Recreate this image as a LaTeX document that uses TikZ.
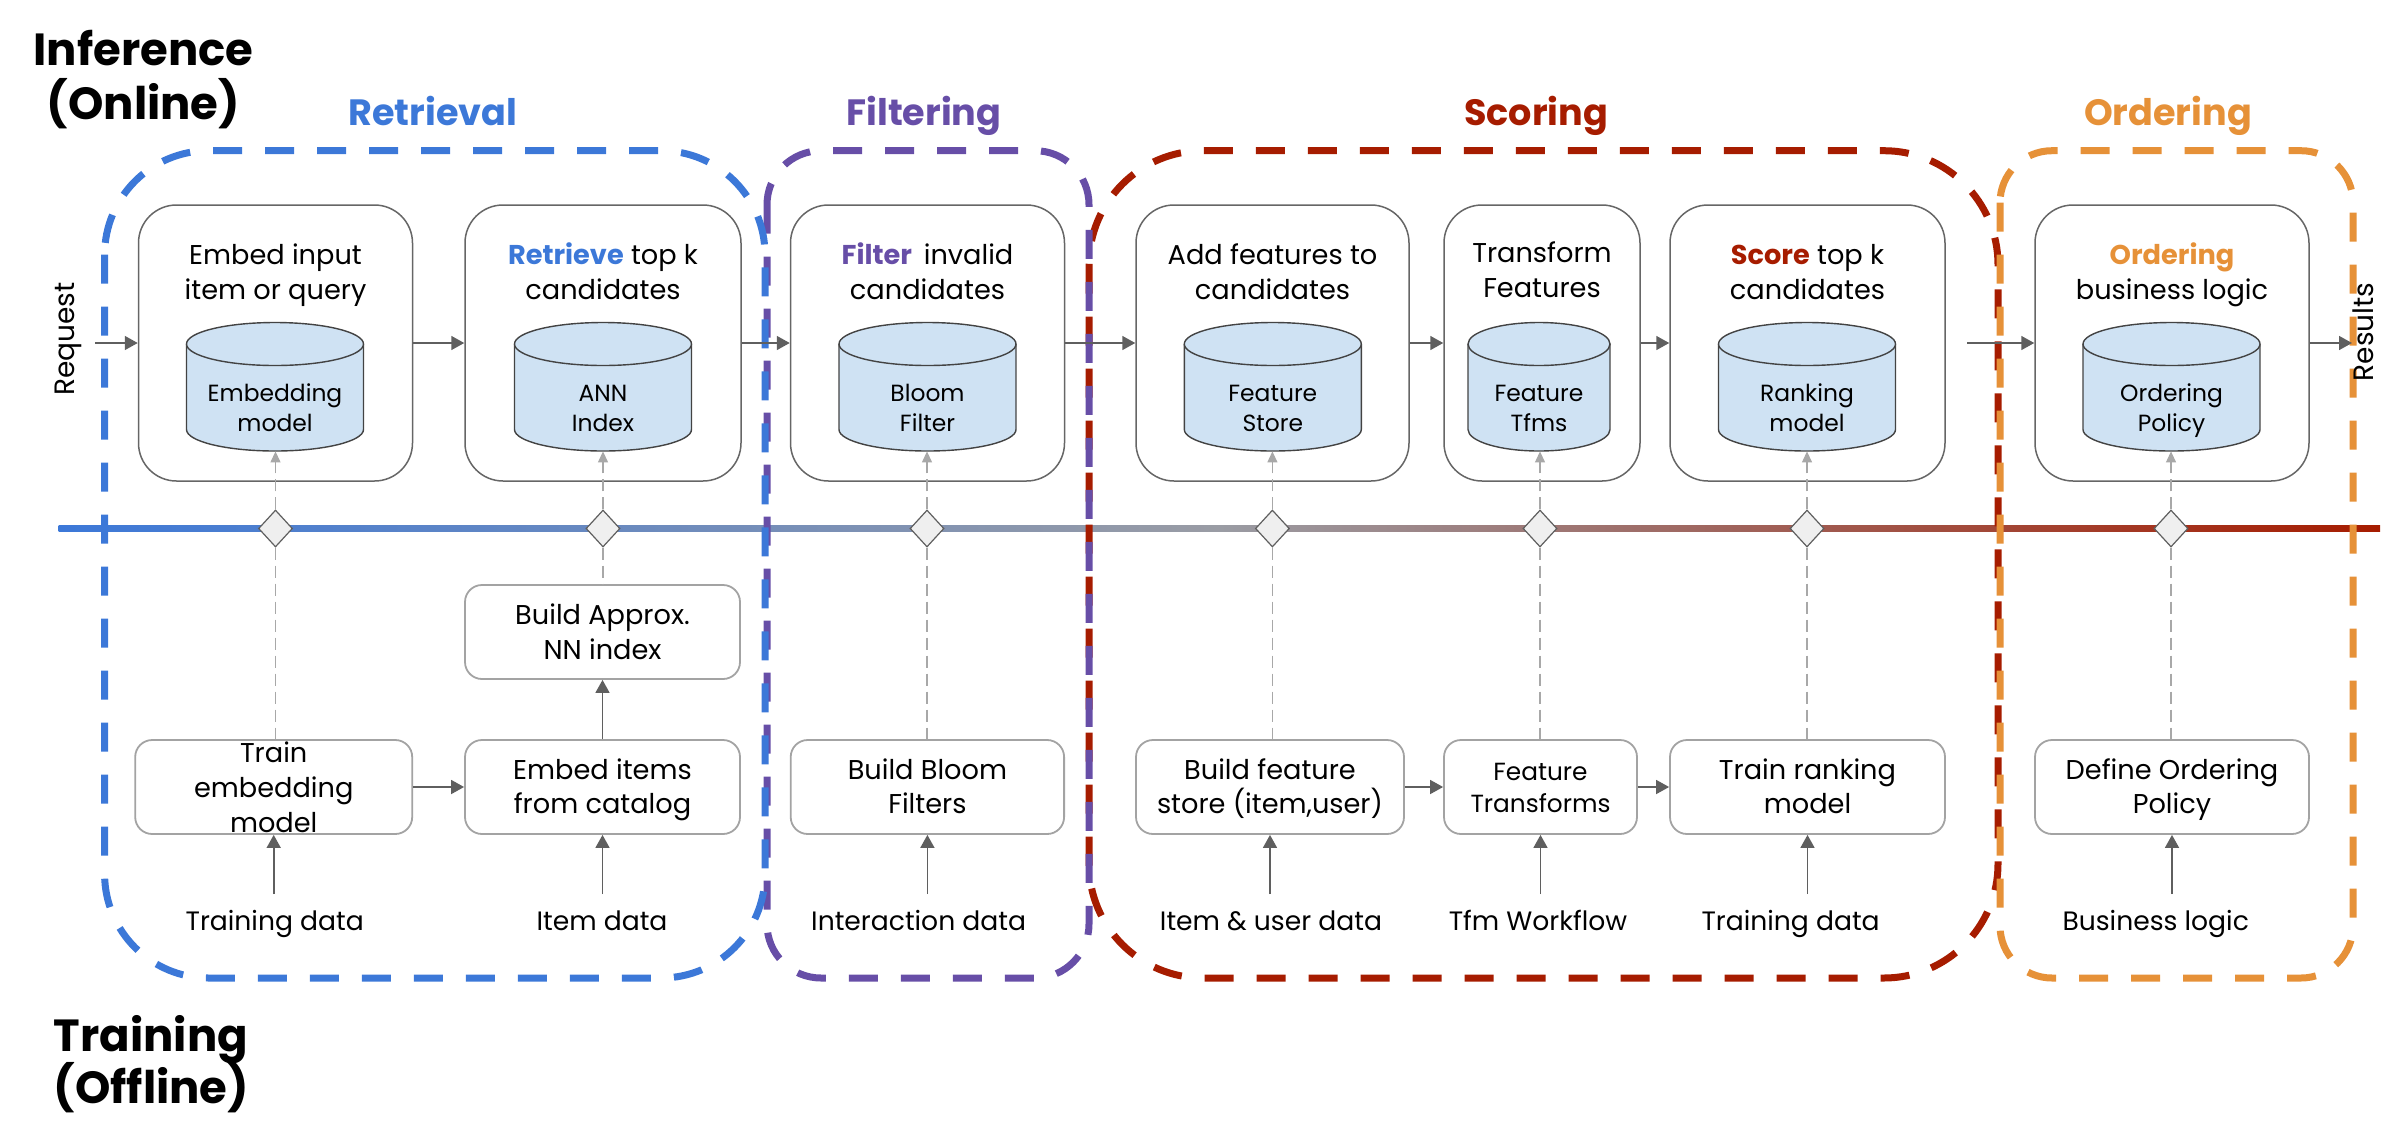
\documentclass[tikz,border=0pt]{standalone}
\usepackage{fontspec}
\setmainfont{Poppins}
\usetikzlibrary{arrows.meta,shapes.geometric}
\definecolor{cblue}{HTML}{3C78D8}
\definecolor{cpurple}{HTML}{674EA7}
\definecolor{cred}{HTML}{A61C00}
\definecolor{corange}{HTML}{E69138}
\definecolor{cylfill}{HTML}{CFE2F3}
\definecolor{cyldraw}{HTML}{434343}
\definecolor{boxdraw}{HTML}{666666}
\definecolor{lboxdraw}{HTML}{A3A3A3}
\definecolor{arrowc}{HTML}{5F5F5F}
\definecolor{dashc}{HTML}{A8A8A8}
\definecolor{diafill}{HTML}{EFEFEF}
\definecolor{tlmid}{HTML}{9A9CA4}
\tikzset{
  topbox/.style={draw=boxdraw, line width=0.75pt, rounded corners=19pt, minimum height=138pt, inner sep=0pt},
  botbox/.style={draw=lboxdraw, line width=0.9pt, rounded corners=8.5pt, minimum height=47pt, inner sep=0pt},
  sect/.style={line width=3.5pt, dash pattern=on 14.5pt off 11.5pt},
  flow/.style={draw=arrowc, line width=0.8pt, -{Triangle[length=6.5pt,width=7pt]}},
  link/.style={draw=dashc, line width=0.6pt, dash pattern=on 6pt off 3pt},
  linkarrow/.style={link, -{Triangle[length=5.5pt,width=5pt]}},
  gate/.style={diamond, draw=arrowc, fill=diafill, line width=0.6pt, minimum width=17pt, minimum height=18.5pt, inner sep=0pt},
  cylbox/.style={inner sep=0pt, minimum height=64.25pt},
  boxtxt/.style={font=\fontsize{13.6pt}{17pt}\selectfont, anchor=base, inner sep=0pt},
  smalltxt/.style={font=\fontsize{12.4pt}{15pt}\selectfont, anchor=base, inner sep=0pt},
  cyltxt/.style={font=\fontsize{11.7pt}{14pt}\selectfont, anchor=base, inner sep=0pt},
  datatxt/.style={font=\fontsize{13.3pt}{16pt}\selectfont, anchor=base, inner sep=0pt},
  sidetxt/.style={font=\fontsize{14pt}{17pt}\selectfont, rotate=90, inner sep=0pt},
  secttitle/.style={font=\bfseries\fontsize{18.3pt}{22pt}\selectfont, anchor=base, inner sep=0pt},
  maintitle/.style={font=\bfseries\fontsize{22.5pt}{27pt}\selectfont, anchor=base, inner sep=0pt},
}
% cylinder: name, centre x, half width (px)
\newcommand\drawcyl[3]{%
  \fill[cylfill] (#2-#3,344) rectangle (#2+#3,429.5);
  \fill[cylfill] (#2,429.5) ellipse[x radius=#3, y radius=21.5];
  \draw[cyldraw, line width=0.7pt] (#2-#3,344) -- (#2-#3,429.5) arc[start angle=180, end angle=0, x radius=#3, y radius=21.5] -- (#2+#3,344);
  \filldraw[fill=cylfill, draw=cyldraw, line width=0.7pt] (#2,344) ellipse[x radius=#3, y radius=21.5];
  \node[cylbox, minimum width=#3pt] (#1) at (#2,386.75) {};
}
\begin{document}
\begin{tikzpicture}[x=0.5pt,y=-0.5pt]
\useasboundingbox (0,0) rectangle (2400,1147);

% timeline
\shade[left color=cblue, right color=cred, middle color=tlmid] (58.5,525.75) rectangle (2380,531.25);

% section frames
\draw[sect, draw=cred, rounded corners=57pt] (1089,150.7) rectangle (1998,978);
\draw[sect, draw=cpurple, rounded corners=27pt] (767,150.7) rectangle (1089,978);
\draw[sect, draw=cblue, rounded corners=52pt] (104.6,150.7) rectangle (765,978);
\draw[sect, draw=corange, rounded corners=26pt] (2000,150.7) rectangle (2353,978);

% titles
\node[maintitle] (inf1) at (143.5,65) {Inference};
\node[maintitle] (inf2) at (143.5,119) {(Online)};
\node[maintitle] (tr1) at (151,1051.6) {Training};
\node[maintitle] (tr2) at (151.5,1103) {(Offline)};
\node[secttitle, text=cblue] (s1) at (433,125) {Retrieval};
\node[secttitle, text=cpurple] (s2) at (924,125) {Filtering};
\node[secttitle, text=cred] (s3) at (1536,125) {Scoring};
\node[secttitle, text=corange] (s4) at (2168,125) {Ordering};

% top boxes
\node[topbox, minimum width=137pt] (e1) at (275.5,343) {};
\node[topbox, minimum width=138pt] (e2) at (603,343) {};
\node[topbox, minimum width=137pt] (e3) at (927.5,343) {};
\node[topbox, minimum width=136.5pt] (e4) at (1272.5,343) {};
\node[topbox, minimum width=98pt] (e5) at (1542,343) {};
\node[topbox, minimum width=137.5pt] (e6) at (1807.5,343) {};
\node[topbox, minimum width=137pt] (e7) at (2172,343) {};

% texts in top boxes
\node[boxtxt] (t1a) at (275.5,264) {Embed input};
\node[boxtxt] (t1b) at (275.5,299) {item or query};
\node[boxtxt] (t2a) at (603,264) {\textcolor{cblue}{\bfseries Retrieve} top k};
\node[boxtxt] (t2b) at (603,299) {candidates};
\node[boxtxt] (t3a) at (927.5,264) {\textcolor{cpurple}{\bfseries Filter}\, invalid};
\node[boxtxt] (t3b) at (927.5,299) {candidates};
\node[boxtxt] (t4a) at (1272.5,264) {Add features to};
\node[boxtxt] (t4b) at (1272.5,299) {candidates};
\node[boxtxt] (t5a) at (1542,262) {Transform};
\node[boxtxt] (t5b) at (1542,297) {Features};
\node[boxtxt] (t6a) at (1807.5,264) {\textcolor{cred}{\bfseries Score} top k};
\node[boxtxt] (t6b) at (1807.5,299) {candidates};
\node[boxtxt] (t7a) at (2172,264) {\textcolor{corange}{\bfseries Ordering}};
\node[boxtxt] (t7b) at (2172,299) {business logic};

% cylinders
\drawcyl{c1}{275}{88.5}
\drawcyl{c2}{603}{88.5}
\drawcyl{c3}{927.5}{88.5}
\drawcyl{c4}{1272.8}{88.5}
\drawcyl{c5}{1539}{71}
\drawcyl{c6}{1807}{88.5}
\drawcyl{c7}{2171.5}{88.5}
\node[cyltxt] (k1a) at (275,401) {Embedding};
\node[cyltxt] (k1b) at (275,431) {model};
\node[cyltxt] (k2a) at (603,401) {ANN};
\node[cyltxt] (k2b) at (603,431) {Index};
\node[cyltxt] (k3a) at (927.5,401) {Bloom};
\node[cyltxt] (k3b) at (927.5,431) {Filter};
\node[cyltxt] (k4a) at (1272.8,401) {Feature};
\node[cyltxt] (k4b) at (1272.8,431) {Store};
\node[cyltxt] (k5a) at (1539,401) {Feature};
\node[cyltxt] (k5b) at (1539,431) {Tfms};
\node[cyltxt] (k6a) at (1807,401) {Ranking};
\node[cyltxt] (k6b) at (1807,431) {model};
\node[cyltxt] (k7a) at (2171.5,401) {Ordering};
\node[cyltxt] (k7b) at (2171.5,431) {Policy};

% side labels
\node[sidetxt] (req) at (68,339) {Request};
\node[sidetxt] (res) at (2363,332) {Results};
\coordinate (reqend) at (95,343);
\coordinate (e6out) at (1967,343);
\coordinate (resend) at (2352,343);

% top flow
\draw[flow] (reqend) -- (e1.west);
\draw[flow] (e1.east) -- (e2.west);
\draw[flow] (e2.east) -- (e3.west);
\draw[flow] (e3.east) -- (e4.west);
\draw[flow] (e4.east) -- (e5.west);
\draw[flow] (e5.east) -- (e6.west);
\draw[flow] (e6out) -- (e7.west);
\draw[flow] (e7.east) -- (resend);

% bottom boxes
\node[botbox, minimum width=138.5pt] (b1) at (273.7,787) {};
\node[botbox, minimum width=137.5pt] (b2) at (602.5,787) {};
\node[botbox, minimum width=137.5pt] (a2) at (602.5,632) {};
\node[botbox, minimum width=136.7pt] (b3) at (927.4,787) {};
\node[botbox, minimum width=134pt] (b4) at (1270,787) {};
\node[botbox, minimum width=96.5pt] (b5) at (1540.5,787) {};
\node[botbox, minimum width=137.5pt] (b6) at (1807.5,787) {};
\node[botbox, minimum width=137pt] (b7) at (2172,787) {};

\node[boxtxt] (u1a) at (273.7,762) {Train};
\node[boxtxt] (u1b) at (273.7,797.5) {embedding};
\node[boxtxt] (u1c) at (273.7,832.6) {model};
\node[boxtxt] (u2a) at (602.5,779) {Embed items};
\node[boxtxt] (u2b) at (602.5,813) {from catalog};
\node[boxtxt] (v2a) at (602.5,624) {Build Approx.};
\node[boxtxt] (v2b) at (602.5,659) {NN index};
\node[boxtxt] (u3a) at (927.4,779) {Build Bloom};
\node[boxtxt] (u3b) at (927.4,813) {Filters};
\node[boxtxt] (u4a) at (1270,779) {Build feature};
\node[boxtxt] (u4b) at (1270,813) {store (item,user)};
\node[smalltxt] (u5a) at (1540.5,780) {Feature};
\node[smalltxt] (u5b) at (1540.5,812.7) {Transforms};
\node[boxtxt] (u6a) at (1807.5,779) {Train ranking};
\node[boxtxt] (u6b) at (1807.5,813) {model};
\node[boxtxt] (u7a) at (2172,779) {Define Ordering};
\node[boxtxt] (u7b) at (2172,813) {Policy};

% bottom flow
\draw[flow] (b1.east) -- (b2.west);
\draw[flow] (b2.north) -- (a2.south);
\draw[flow] (b4.east) -- (b5.west);
\draw[flow] (b5.east) -- (b6.west);

% data labels
\node[datatxt] (l1) at (274.7,930) {Training data};
\node[datatxt] (l2) at (602,930) {Item data};
\node[datatxt] (l3) at (918.6,930) {Interaction data};
\node[datatxt] (l4) at (1271,930) {Item \& user data};
\node[datatxt] (l5) at (1538,930) {Tfm Workflow};
\node[datatxt] (l6) at (1790.6,930) {Training data};
\node[datatxt] (l7) at (2155.7,930) {Business logic};
\coordinate (s1) at (273.7,894);
\coordinate (s2) at (602.5,894);
\coordinate (s3) at (927.4,894);
\coordinate (s4) at (1270,894);
\coordinate (s5) at (1540.5,894);
\coordinate (s6) at (1807.5,894);
\coordinate (s7) at (2172,894);
\draw[flow] (s1) -- (b1.south);
\draw[flow] (s2) -- (b2.south);
\draw[flow] (s3) -- (b3.south);
\draw[flow] (s4) -- (b4.south);
\draw[flow] (s5) -- (b5.south);
\draw[flow] (s6) -- (b6.south);
\draw[flow] (s7) -- (b7.south);

% gates on the timeline
\node[gate] (d1) at (275.5,528.5) {};
\node[gate] (d2) at (603,528.5) {};
\node[gate] (d3) at (927,528.5) {};
\node[gate] (d4) at (1272.4,528.5) {};
\node[gate] (d5) at (1540,528.5) {};
\node[gate] (d6) at (1807,528.5) {};
\node[gate] (d7) at (2171,528.5) {};

% dashed links
\foreach \i in {1,...,7} {
  \draw[linkarrow] (d\i.north) -- (d\i.north |- c\i.south);
}
\draw[link] (d1.south) -- (d1.south |- b1.north);
\draw[link] (d2.south) -- (d2.south |- a2.north);
\draw[link] (d3.south) -- (d3.south |- b3.north);
\draw[link] (d4.south) -- (d4.south |- b4.north);
\draw[link] (d5.south) -- (d5.south |- b5.north);
\draw[link] (d6.south) -- (d6.south |- b6.north);
\draw[link] (d7.south) -- (d7.south |- b7.north);
\end{tikzpicture}
\end{document}
